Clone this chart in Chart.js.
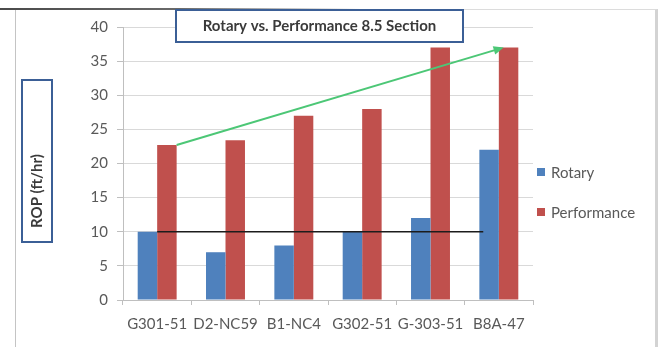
<!DOCTYPE html>
<html>
<head>
<meta charset="utf-8">
<script src="https://cdn.jsdelivr.net/npm/chart.js@4.4.1/dist/chart.umd.min.js"></script>
<style>
  html, body { margin: 0; padding: 0; background: #ffffff; }
  #wrap { position: relative; width: 665px; height: 347px; overflow: hidden; }
  #frame { position: absolute; left: 15px; top: 9px; width: 639px; height: 345px;
           border-left: 1px solid #c4c4c4; border-right: 3px solid #d3d3d3; border-top: 1px solid #dcdcdc; }
  #shadow { position: absolute; left: 0; top: 8px; width: 360px; height: 2px;
            background: linear-gradient(to right, #4a4a4a 0%, #6a6a6a 50%, rgba(200,200,200,0) 100%); }
  canvas { position: absolute; left: 0; top: 0; }
</style>
</head>
<body>
<div id="wrap">
  <div id="frame"></div>
  <div id="shadow"></div>
  <canvas id="c" width="665" height="347"></canvas>
</div>
<script>
// Wells and rate of penetration for the 8.5" section
const wells = ['G301-51', 'D2-NC59', 'B1-NC4', 'G302-51', 'G-303-51', 'B8A-47'];
const rotary = [10, 7, 8, 10, 12, 22];
const performance = [22.7, 23.4, 27, 28, 37, 37];
const yTicks = [0, 5, 10, 15, 20, 25, 30, 35, 40];
const rotaryBaseline = 10;   // flat reference line across the rotary runs

const titleText = 'Rotary vs. Performance 8.5 Section';
const yAxisTitle = 'ROP (ft/hr)';

const FONT = 'Lato, "Open Sans", sans-serif';
const BLUE = '#4F81BD';
const RED = '#C0504D';
const TEXT = '#595959';
const BOX = '#3b5f96';

const overlay = {
  id: 'overlay',
  afterDatasetsDraw(chart) {
    const ctx = chart.ctx;
    const y = chart.scales.y;
    const rot = chart.getDatasetMeta(0).data;
    const perf = chart.getDatasetMeta(1).data;
    const n = wells.length - 1;

    // black baseline at the typical rotary rate
    const by = y.getPixelForValue(rotaryBaseline);
    ctx.save();
    ctx.strokeStyle = '#1c1c1c';
    ctx.lineWidth = 1.6;
    ctx.beginPath();
    ctx.moveTo(perf[0].x - perf[0].width / 2, by);
    ctx.lineTo(rot[n].x - rot[n].width / 2 + rot[n].width * 0.2, by);
    ctx.stroke();

    // green trend arrow across the performance runs
    const x0 = perf[0].x + perf[0].width / 2;
    const y0 = y.getPixelForValue(performance[0]);
    const x1 = perf[n].x - perf[n].width / 2 + perf[n].width * 0.25;
    const y1 = y.getPixelForValue(performance[n]);
    const ang = Math.atan2(y1 - y0, x1 - x0);
    const head = 11;
    ctx.strokeStyle = '#4cc776';
    ctx.fillStyle = '#4cc776';
    ctx.lineWidth = 2;
    ctx.beginPath();
    ctx.moveTo(x0, y0);
    ctx.lineTo(x1 - Math.cos(ang) * head * 0.6, y1 - Math.sin(ang) * head * 0.6);
    ctx.stroke();
    ctx.beginPath();
    ctx.moveTo(x1, y1);
    ctx.lineTo(x1 - head * Math.cos(ang - 0.4), y1 - head * Math.sin(ang - 0.4));
    ctx.lineTo(x1 - head * Math.cos(ang + 0.4), y1 - head * Math.sin(ang + 0.4));
    ctx.closePath();
    ctx.fill();
    ctx.restore();
  },
  afterDraw(chart) {
    const ctx = chart.ctx;
    ctx.save();

    // title box
    ctx.fillStyle = '#ffffff';
    ctx.fillRect(176, 10, 287, 32);
    ctx.strokeStyle = BOX;
    ctx.lineWidth = 2;
    ctx.strokeRect(176, 10, 287, 32);
    ctx.fillStyle = '#3a3a3a';
    ctx.font = 'bold 15px ' + FONT;
    ctx.textAlign = 'center';
    ctx.textBaseline = 'middle';
    ctx.fillText(titleText, 319.5, 26);

    // y axis title box
    ctx.fillStyle = '#ffffff';
    ctx.fillRect(22, 80, 30, 162);
    ctx.strokeRect(22, 80, 30, 162);
    ctx.translate(37, 191);
    ctx.rotate(-Math.PI / 2);
    ctx.fillStyle = '#3a3a3a';
    ctx.font = 'bold 15px ' + FONT;
    ctx.fillText(yAxisTitle, 0, 0);
    ctx.setTransform(1, 0, 0, 1, 0, 0);

    // legend
    const items = chart.data.datasets;
    const ly = [172, 212];
    ctx.font = '15px ' + FONT;
    ctx.textAlign = 'left';
    items.forEach((ds, i) => {
      ctx.fillStyle = ds.backgroundColor;
      ctx.fillRect(537, ly[i] - 4, 8, 8);
      ctx.fillStyle = TEXT;
      ctx.fillText(ds.label, 551, ly[i] + 1);
    });
    ctx.restore();
  }
};

new Chart(document.getElementById('c'), {
  type: 'bar',
  data: {
    labels: wells,
    datasets: [
      { label: 'Rotary', data: rotary, backgroundColor: BLUE, borderWidth: 0 },
      { label: 'Performance', data: performance, backgroundColor: RED, borderWidth: 0 }
    ]
  },
  options: {
    responsive: false,
    animation: false,
    events: [],
    layout: { padding: { left: 60, right: 132, top: 27, bottom: 0 } },
    datasets: { bar: { categoryPercentage: 0.57, barPercentage: 1.0 } },
    plugins: { legend: { display: false }, title: { display: false }, tooltip: { enabled: false } },
    scales: {
      x: {
        grid: { offset: true, drawOnChartArea: false, color: '#bfbfbf', tickLength: 5 },
        border: { color: '#bfbfbf' },
        ticks: { color: TEXT, font: { family: FONT, size: 15 }, padding: 10, maxRotation: 0, autoSkip: false },
        afterFit(s) { s.height = 47; }
      },
      y: {
        min: 0, max: 40,
        afterBuildTicks(s) { s.ticks = yTicks.map(v => ({ value: v })); },
        grid: { color: '#d9d9d9', tickLength: 6, tickColor: '#bfbfbf' },
        border: { color: '#bfbfbf' },
        ticks: { color: TEXT, font: { family: FONT, size: 15 }, padding: 9 },
        afterFit(s) { s.width = 63; }
      }
    }
  },
  plugins: [overlay]
});
</script>
</body>
</html>
